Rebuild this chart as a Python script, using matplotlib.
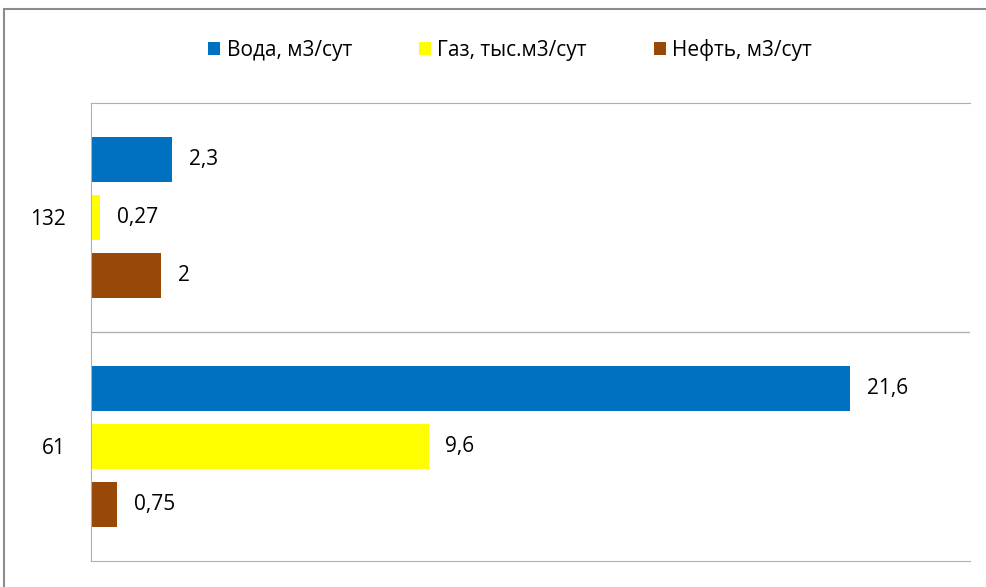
import numpy as np
import matplotlib
matplotlib.use('Agg')
from matplotlib import pyplot as plt
from matplotlib.patches import Rectangle

plt.rcParams['font.family'] = ['Open Sans', 'DejaVu Sans']

# data
categories = ['61', '132']
series_names = ['Вода, м3/сут', 'Газ, тыс.м3/сут', 'Нефть, м3/сут']
voda = [21.6, 2.3]
gaz = [9.6, 0.27]
neft = [0.75, 2]
value_labels = {
    'Вода, м3/сут': ['21,6', '2,3'],
    'Газ, тыс.м3/сут': ['9,6', '0,27'],
    'Нефть, м3/сут': ['0,75', '2'],
}
colors = ['#0070C0', '#FFFF00', '#984807']

fig = plt.figure(figsize=(9.87, 5.87), dpi=100)
ax = fig.add_axes([91 / 987, 1 - 561 / 587, (970 - 91) / 987, (561 - 103) / 587])

# outer chart frame (goes past right and bottom edges as in the source)
fig.patches.append(Rectangle((4 / 987, -0.1), 1.2, 1 - 9 / 587 + 0.1,
                             transform=fig.transFigure, fill=False,
                             edgecolor='#8c8c8c', linewidth=1.5))

y = np.arange(len(categories))
height = 0.2
step = 0.253
for i, (name, values) in enumerate(zip(series_names, [voda, gaz, neft])):
    rects = ax.barh(y + (1 - i) * step, values, height, color=colors[i], label=name)
    ax.bar_label(rects, labels=value_labels[name], padding=12, fontsize=15)

ax.set_xlim(0, 25)
ax.set_ylim(-0.5, 1.5)
ax.set_xticks([])
ax.set_yticks(y, categories, fontsize=15)
ax.tick_params(axis='y', length=0, pad=18)
ax.axhline(0.5, color='#b0b0b0', linewidth=1)
for s in ['top', 'bottom']:
    ax.spines[s].set_color('#b0b0b0')
ax.spines['left'].set_color('#b0b0b0')
ax.spines['right'].set_visible(False)

fig.legend(loc='center', bbox_to_anchor=(510 / 987, 1 - 50 / 587), ncol=3,
           frameon=False, fontsize=15, handlelength=0.6, handleheight=0.6,
           handletextpad=0.3, columnspacing=3.2)

fig.savefig('out.png', dpi=100)
